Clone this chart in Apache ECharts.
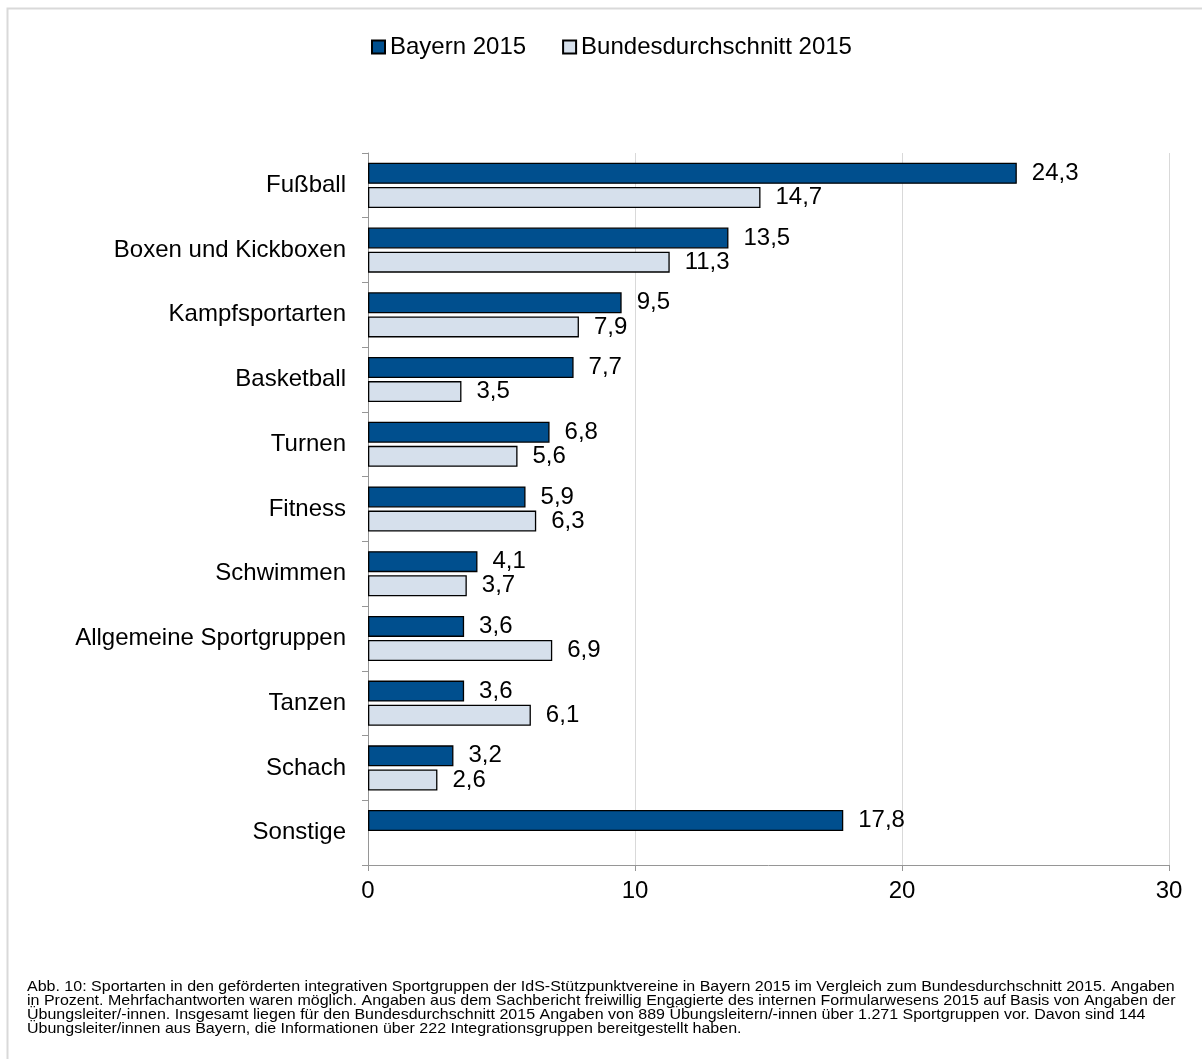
<!DOCTYPE html>
<html><head><meta charset="utf-8">
<script src="https://cdn.jsdelivr.net/npm/echarts@6/dist/echarts.min.js"></script>
<style>html,body{margin:0;padding:0;background:#fff}#c{width:1202px;height:1059px}</style>
</head><body><div id="c"></div>
<script>
const categories = ["Fußball","Boxen und Kickboxen","Kampfsportarten","Basketball","Turnen","Fitness","Schwimmen","Allgemeine Sportgruppen","Tanzen","Schach","Sonstige"];
const bayern2015 = [24.3,13.5,9.5,7.7,6.8,5.9,4.1,3.6,3.6,3.2,17.8];
const bund2015 = [14.7,11.3,7.9,3.5,5.6,6.3,3.7,6.9,6.1,2.6,null];
const seriesNames = ["Bayern 2015","Bundesdurchschnitt 2015"];
const valueTicks = [0,10,20,30];
const captionLines = [
"Abb. 10: Sportarten in den geförderten integrativen Sportgruppen der IdS-Stützpunktvereine in Bayern 2015 im Vergleich zum Bundesdurchschnitt 2015. Angaben",
"in Prozent. Mehrfachantworten waren möglich. Angaben aus dem Sachbericht freiwillig Engagierte des internen Formularwesens 2015 auf Basis von Angaben der",
"Übungsleiter/-innen. Insgesamt liegen für den Bundesdurchschnitt 2015 Angaben von 889 Übungsleitern/-innen über 1.271 Sportgruppen vor. Davon sind 144",
"Übungsleiter/innen aus Bayern, die Informationen über 222 Integrationsgruppen bereitgestellt haben."
];
const FONT = "'Liberation Sans', Arial, sans-serif";
const chart = echarts.init(document.getElementById('c'), null, {renderer:'canvas'});
const lbl = {show:true, position:'right', distance:15, fontSize:24, fontFamily:FONT, color:'#000',
  formatter: p => p.value == null ? '' : String(p.value.toFixed(1)).replace('.', ',')};
chart.setOption({
  animation:false,
  backgroundColor:'#fff',
  textStyle:{fontFamily:FONT},
  graphic:[
    {type:'rect', shape:{x:7.5,y:8.5,width:1210,height:1070}, style:{fill:'none',stroke:'#D9D9D9',lineWidth:2}, silent:true},
    {type:'text', x:27, y:980, scaleX:1.067, scaleY:1, style:{text:captionLines.join('\n'), font:"15px "+FONT, lineHeight:14, fill:'#000'}}
  ],
  legend:{top:30, left:366, itemWidth:13, itemHeight:13, itemGap:36,
    textStyle:{fontSize:24, fontFamily:FONT, color:'#000'},
    data:seriesNames.map(n=>({name:n, icon:'rect'}))},
  grid:{left:368, right:33, top:153, bottom:194, containLabel:false},
  xAxis:{type:'value', min:0, max:30, interval:10,
    axisLine:{show:true, lineStyle:{color:'#969696', width:1}},
    axisTick:{show:true, length:6, lineStyle:{color:'#969696'}},
    axisLabel:{fontSize:24, fontFamily:FONT, color:'#000', margin:14, customValues: valueTicks},
    splitLine:{show:true, lineStyle:{color:'#D9D9D9', width:1}}},
  yAxis:{type:'category', data:categories, inverse:true,
    axisLine:{show:true, lineStyle:{color:'#969696', width:1}},
    axisTick:{show:true, length:6, alignWithLabel:false, lineStyle:{color:'#969696'}},
    axisLabel:{fontSize:24, fontFamily:FONT, color:'#000', margin:22}},
  series:[
    {name:seriesNames[0], type:'bar', data:bayern2015, barWidth:21, barGap:'15%',
     itemStyle:{color:'#004F8E', borderColor:'#000', borderWidth:1.3}, label:lbl},
    {name:seriesNames[1], type:'bar', data:bund2015, barWidth:21, barGap:'15%',
     itemStyle:{color:'#D6E0EC', borderColor:'#000', borderWidth:1.3}, label:lbl}
  ]
});
</script></body></html>
